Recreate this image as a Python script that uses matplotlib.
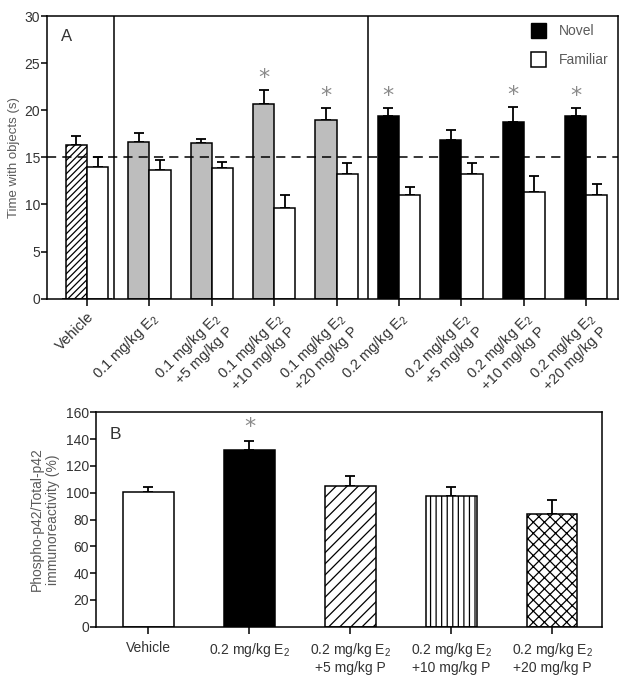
import numpy as np
import matplotlib
matplotlib.use('Agg')
import matplotlib.pyplot as plt

plt.rcParams['font.family'] = ['Liberation Sans', 'DejaVu Sans']
plt.rcParams['mathtext.fontset'] = 'custom'
plt.rcParams['mathtext.rm'] = 'Liberation Sans'
plt.rcParams['mathtext.default'] = 'regular'
plt.rcParams['hatch.linewidth'] = 0.9

# panel A data
labels_a = ['Vehicle', '0.1 mg/kg E$_2$', '0.1 mg/kg E$_2$\n+5 mg/kg P',
            '0.1 mg/kg E$_2$\n+10 mg/kg P', '0.1 mg/kg E$_2$\n+20 mg/kg P',
            '0.2 mg/kg E$_2$', '0.2 mg/kg E$_2$\n+5 mg/kg P',
            '0.2 mg/kg E$_2$\n+10 mg/kg P', '0.2 mg/kg E$_2$\n+20 mg/kg P']
novel = [16.3, 16.6, 16.5, 20.7, 19.0, 19.4, 16.8, 18.8, 19.4]
novel_err = [1.0, 1.0, 0.5, 1.4, 1.2, 0.8, 1.1, 1.5, 0.8]
familiar = [14.0, 13.7, 13.9, 9.6, 13.2, 11.0, 13.2, 11.3, 11.0]
familiar_err = [1.0, 1.0, 0.6, 1.4, 1.2, 0.8, 1.2, 1.7, 1.2]
sig_a = [False, False, False, True, True, True, False, True, True]

# panel B data
labels_b = ['Vehicle', '0.2 mg/kg E$_2$', '0.2 mg/kg E$_2$\n+5 mg/kg P',
            '0.2 mg/kg E$_2$\n+10 mg/kg P', '0.2 mg/kg E$_2$\n+20 mg/kg P']
phospho = [100.5, 132.0, 105.4, 97.2, 84.0]
phospho_err = [3.7, 7.0, 7.3, 7.0, 10.7]
sig_b = [False, True, False, False, False]

txt = '#333333'
lab = '#5a5a5a'
star = '#8a8a8a'

fig = plt.figure(figsize=(6.29, 6.85), dpi=100)
ax1 = fig.add_axes([0.0747, 0.564, 0.9078, 0.4126])
ax2 = fig.add_axes([0.1526, 0.0851, 0.804, 0.3129])

# ---- panel A
x = np.arange(len(novel))
w = 0.34
nov_colors = ['white'] + ['#bdbdbd'] * 4 + ['black'] * 4
nov_hatch = ['/////'] + [None] * 8
for i in x:
    ax1.bar(i - w / 2, novel[i], w, color=nov_colors[i], edgecolor='black',
            linewidth=1.1, hatch=nov_hatch[i], zorder=2)
ax1.bar(x + w / 2, familiar, w, color='white', edgecolor='black', linewidth=1.1, zorder=2)
ax1.errorbar(x - w / 2, novel, yerr=[np.zeros(len(x)), novel_err], fmt='none',
             ecolor='black', elinewidth=1.3, capsize=3.6, capthick=1.3, zorder=1)
ax1.errorbar(x + w / 2, familiar, yerr=[np.zeros(len(x)), familiar_err], fmt='none',
             ecolor='black', elinewidth=1.3, capsize=3.6, capthick=1.3, zorder=1)
for i in x:
    if sig_a[i]:
        ax1.text(i - w / 2, novel[i] + novel_err[i] + 1.3, '*', color=star,
                 fontsize=16, ha='center', va='center', family='DejaVu Sans')

ax1.axhline(15, color='black', linestyle=(0, (6, 4)), linewidth=1.1, zorder=3)
ax1.axvline(0.43, color='black', linewidth=1.1)
ax1.axvline(4.5, color='black', linewidth=1.1)

# legend proxies
ax1.bar([0], [0], color='black', edgecolor='black', label='Novel')
ax1.bar([0], [0], color='white', edgecolor='black', linewidth=1.1, label='Familiar')
leg = ax1.legend(loc='upper right', frameon=False, fontsize=10, handlelength=1.1,
                 handleheight=1.3, labelspacing=1.0, handletextpad=0.9,
                 borderaxespad=0.3, bbox_to_anchor=(1.0, 1.01))
for t in leg.get_texts():
    t.set_color(lab)

ax1.set_xlim(-0.64, 8.51)
ax1.set_ylim(0, 30)
ax1.set_yticks(np.arange(0, 31, 5))
ax1.set_xticks(x)
ax1.set_xticklabels(labels_a, rotation=45, ha='right', va='top',
                    rotation_mode='anchor', fontsize=10.5, color=txt,
                    multialignment='right')
ax1.tick_params(axis='y', length=4, width=1.1, labelsize=10, labelcolor=txt, pad=1)
ax1.tick_params(axis='x', length=5, width=1.1, pad=3)
ax1.set_ylabel('Time with objects (s)', fontsize=9.5, color=lab, labelpad=3)
for s in ax1.spines.values():
    s.set_linewidth(1.1)
ax1.text(0.025, 0.955, 'A', transform=ax1.transAxes, fontsize=12, color=txt,
         ha='left', va='top')

# ---- panel B
xb = np.arange(len(phospho))
b_colors = ['white', 'black', 'white', 'white', 'white']
b_hatch = [None, None, '///', '|||', 'xxx']
for i in xb:
    ax2.bar(i, phospho[i], 0.5, color=b_colors[i], edgecolor='black',
            linewidth=1.1, hatch=b_hatch[i], zorder=2)
ax2.errorbar(xb, phospho, yerr=[np.zeros(len(xb)), phospho_err], fmt='none',
             ecolor='black', elinewidth=1.3, capsize=3.3, capthick=1.3, zorder=1)
for i in xb:
    if sig_b[i]:
        ax2.text(i, phospho[i] + phospho_err[i] + 10, '*', color=star,
                 fontsize=16, ha='center', va='center', family='DejaVu Sans')

ax2.set_xlim(-0.52, 4.49)
ax2.set_ylim(0, 160)
ax2.set_yticks(np.arange(0, 161, 20))
ax2.set_xticks(xb)
ax2.set_xticklabels(labels_b, fontsize=10, color=txt)
ax2.tick_params(axis='y', length=4, width=1.1, labelsize=10, labelcolor=txt, pad=1)
ax2.tick_params(axis='x', length=5, width=1.1, pad=5)
ax2.set_ylabel('Phospho-p42/Total-p42\nimmunoreactivity (%)', fontsize=10,
               color=lab, labelpad=4)
for s in ax2.spines.values():
    s.set_linewidth(1.1)
ax2.text(0.027, 0.93, 'B', transform=ax2.transAxes, fontsize=12.5, color=txt,
         ha='left', va='top')

fig.savefig('out.png', dpi=100)
